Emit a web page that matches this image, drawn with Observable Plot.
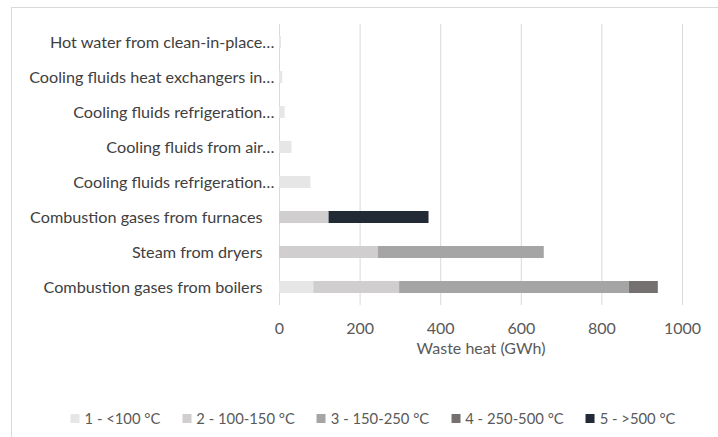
<!DOCTYPE html>
<html>
<head>
<meta charset="utf-8">
<script src="https://cdn.jsdelivr.net/npm/d3@7"></script>
<script src="https://cdn.jsdelivr.net/npm/@observablehq/plot@0.6"></script>
<style>
  html, body { margin: 0; padding: 0; background: #fff; width: 718px; height: 437px; overflow: hidden; }
  #wrap { position: relative; width: 718px; height: 437px; }
  #frame { position: absolute; left: 11px; top: 7px; width: 900px; height: 600px; border-left: 1px solid #d9d9d9; border-top: 1px solid #d9d9d9; }
  #chart { position: absolute; left: 0; top: 0; }
  #legend { position: absolute; top: 409px; left: 373px; transform: translateX(-50%); display: flex; white-space: nowrap;
            font-family: Lato, "Open Sans", sans-serif; font-size: 14.8px; color: #595959; }
  .item { display: flex; align-items: center; margin-right: 22px; }
  .item:last-child { margin-right: 0; }
  .sw { width: 9px; height: 9px; margin-right: 5px; }
</style>
</head>
<body>
<div id="wrap">
  <div id="frame"></div>
  <div id="chart"></div>
  <div id="legend"></div>
</div>
<script>
const categories = [
  "Hot water from clean-in-place…",
  "Cooling fluids heat exchangers in…",
  "Cooling fluids refrigeration…",
  "Cooling fluids from air…",
  "Cooling fluids refrigeration… ",
  "Combustion gases from furnaces",
  "Steam from dryers",
  "Combustion gases from boilers"
];
const classes = ["1 - <100 °C", "2 - 100-150 °C", "3 - 150-250 °C", "4 - 250-500 °C", "5 - >500 °C"];
const colors = ["#e7e6e6", "#d0cece", "#a5a5a5", "#767171", "#222a35"];
const class1 = [5, 8, 14, 31, 78, 0, 0, 85];
const class2 = [0, 0, 0, 0, 0, 123, 245, 213];
const class3 = [0, 0, 0, 0, 0, 0, 412, 570];
const class4 = [0, 0, 0, 0, 0, 0, 0, 72];
const class5 = [0, 0, 0, 0, 0, 248, 0, 0];
const xTicks = [0, 200, 400, 600, 800, 1000];
const xTitle = ["Waste heat (GWh)"];

const series = [class1, class2, class3, class4, class5];
const rows = [];
categories.forEach((c, i) => {
  series.forEach((s, k) => {
    if (s[i] > 0) rows.push({cat: c, cls: classes[k], value: s[i]});
  });
});

const truncated = categories.filter(d => d.trim().endsWith("…"));
const full = categories.filter(d => !d.trim().endsWith("…"));

const chart = Plot.plot({
  width: 718,
  height: 370,
  marginLeft: 279,
  marginRight: 36,
  marginTop: 24,
  marginBottom: 65,
  style: { fontFamily: "Lato, 'Open Sans', sans-serif", background: "transparent", color: "#595959" },
  x: { domain: [0, 1000], axis: null },
  y: { domain: categories, paddingInner: 0.66, paddingOuter: 0.33, axis: null },
  color: { domain: classes, range: colors },
  marks: [
    Plot.gridX(xTicks, { stroke: "#d9d9d9", strokeOpacity: 1 }),
    Plot.barX(rows, Plot.stackX({ x: "value", y: "cat", fill: "cls" })),
    Plot.axisX(xTicks, { tickSize: 0, tickPadding: 17, label: null, fontSize: 16, fill: "#595959", tickFormat: d => String(d) }),
    Plot.text(full, { y: d => d, text: d => d, frameAnchor: "left", textAnchor: "end", dx: -17, fontSize: 16.2, fill: "#404040" }),
    Plot.text(truncated, { y: d => d, text: d => d.trim(), frameAnchor: "left", textAnchor: "end", dx: -5, fontSize: 16.2, fill: "#404040" }),
    Plot.text(xTitle, { text: d => d, frameAnchor: "bottom", dy: 48, fontSize: 16, fill: "#595959" })
  ]
});
document.getElementById("chart").appendChild(chart);

const legend = document.getElementById("legend");
classes.forEach((c, i) => {
  const item = document.createElement("div");
  item.className = "item";
  const sw = document.createElement("div");
  sw.className = "sw";
  sw.style.background = colors[i];
  const t = document.createElement("span");
  t.textContent = c;
  item.appendChild(sw);
  item.appendChild(t);
  legend.appendChild(item);
});
</script>
</body>
</html>
